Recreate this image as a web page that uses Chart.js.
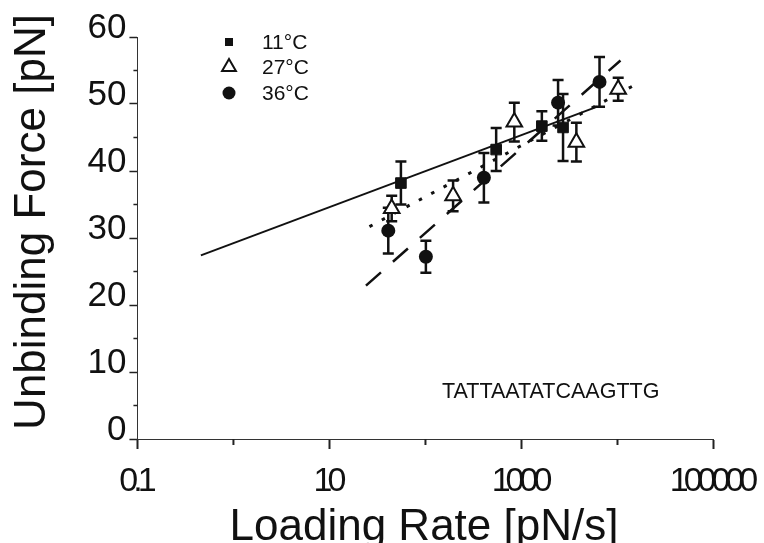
<!DOCTYPE html>
<html>
<head>
<meta charset="utf-8">
<title>Unbinding force vs loading rate</title>
<script src="https://cdn.jsdelivr.net/npm/chart.js@4.4.1/dist/chart.umd.min.js"></script>
<style>
  html, body { margin: 0; padding: 0; background: #fff; }
  canvas { display: block; }
</style>
</head>
<body>
<canvas id="chart" width="764" height="543"></canvas>
<script>
/* ===== DATA ===== */
const SERIES_LABELS = ["11°C", "27°C", "36°C"];

// 11°C
const RATE_11 = [55.5, 545, 1630, 2710];
const FORCE_11 = [38.2, 43.2, 46.7, 46.5];
const ERR_11 = [3.2, 3.2, 2.2, 5.0];

// 27°C
const RATE_27 = [44.5, 194, 842, 3730, 10170];
const FORCE_27 = [34.4, 36.3, 47.3, 44.3, 52.2];
const ERR_27 = [1.9, 2.3, 2.9, 2.9, 1.7];

// 36°C
const RATE_36 = [41, 101, 406, 2405, 6500];
const FORCE_36 = [31.1, 27.2, 39.0, 50.2, 53.3];
const ERR_36 = [3.4, 2.4, 3.7, 3.4, 3.7];

// linear fits (force vs log rate), end points
const FIT_11_RATE = [0.458, 6170];
const FIT_11_FORCE = [27.4, 49.6];
const FIT_27_RATE = [26.1, 16400];
const FIT_27_FORCE = [31.7, 53.1];
const FIT_36_RATE = [24.0, 10740];
const FIT_36_FORCE = [22.9, 56.5];

// axes
const X_MAJOR = [0.1, 10, 1000, 100000];
const X_MINOR = [1, 100, 10000];
const X_LABELS = ["0.1", "10", "1000", "100000"];
const Y_MINOR = [5, 15, 25, 35, 45, 55];

const SEQUENCE = "TATTAATATCAAGTTG";

/* ===== HELPERS ===== */
const FONT = '"Liberation Sans", Arial, sans-serif';
const INK = "#111";

function toPoints(xs, ys) {
  return xs.map((x, i) => ({ x, y: ys[i] }));
}

function marker(ctx, style, x, y, r) {
  ctx.beginPath();
  if (style === "rect") {
    ctx.rect(x - r, y - r, 2 * r, 2 * r);
    ctx.fillStyle = INK;
    ctx.fill();
  } else if (style === "triangle") {
    ctx.moveTo(x, y - r);
    ctx.lineTo(x + r * 0.866, y + r * 0.5);
    ctx.lineTo(x - r * 0.866, y + r * 0.5);
    ctx.closePath();
    ctx.fillStyle = "#fff";
    ctx.fill();
    ctx.lineWidth = 2;
    ctx.strokeStyle = INK;
    ctx.stroke();
  } else {
    ctx.arc(x, y, r, 0, Math.PI * 2);
    ctx.fillStyle = INK;
    ctx.fill();
  }
}

const ERRORS = [
  { xs: RATE_11, ys: FORCE_11, err: ERR_11 },
  { xs: RATE_27, ys: FORCE_27, err: ERR_27 },
  { xs: RATE_36, ys: FORCE_36, err: ERR_36 },
];

/* ===== EXTRA DRAWING: error bars, labels, legend ===== */
const extras = {
  id: "extras",
  beforeDatasetsDraw(chart) {
    const { ctx, scales } = chart;
    ctx.save();
    ctx.strokeStyle = INK;
    ctx.lineWidth = 2.5;
    ERRORS.forEach((s) => {
      s.xs.forEach((rate, i) => {
        const x = scales.x.getPixelForValue(rate);
        const top = scales.y.getPixelForValue(s.ys[i] + s.err[i]);
        const bot = scales.y.getPixelForValue(s.ys[i] - s.err[i]);
        ctx.beginPath();
        ctx.moveTo(x, top);
        ctx.lineTo(x, bot);
        ctx.moveTo(x - 5.5, top);
        ctx.lineTo(x + 5.5, top);
        ctx.moveTo(x - 5.5, bot);
        ctx.lineTo(x + 5.5, bot);
        ctx.stroke();
      });
    });
    ctx.restore();
  },
  afterDraw(chart) {
    const { ctx, scales, chartArea } = chart;
    const xs = scales.x;
    const ys = scales.y;
    ctx.save();

    // short minor ticks
    ctx.strokeStyle = "#222";
    ctx.lineWidth = 2;
    X_MINOR.forEach((v) => {
      const x = xs.getPixelForValue(v);
      ctx.beginPath();
      ctx.moveTo(x, chartArea.bottom);
      ctx.lineTo(x, chartArea.bottom + 6);
      ctx.stroke();
    });
    ctx.lineWidth = 1.5;
    Y_MINOR.forEach((v) => {
      const y = ys.getPixelForValue(v);
      ctx.beginPath();
      ctx.moveTo(chartArea.left - 4, y);
      ctx.lineTo(chartArea.left, y);
      ctx.stroke();
    });

    // x tick labels, squeezed digits
    ctx.fillStyle = INK;
    ctx.font = "34px " + FONT;
    ctx.textAlign = "center";
    ctx.textBaseline = "alphabetic";
    ctx.letterSpacing = "-5px";
    X_MAJOR.forEach((v, i) => {
      ctx.fillText(X_LABELS[i], xs.getPixelForValue(v) - 2, chartArea.bottom + 52);
    });
    ctx.letterSpacing = "0px";

    // axis titles
    ctx.font = "44px " + FONT;
    ctx.fillText("Loading Rate [pN/s]", 424, 540);
    ctx.save();
    ctx.translate(44.5, 222);
    ctx.rotate(-Math.PI / 2);
    ctx.fillText("Unbinding Force [pN]", 0, 0);
    ctx.restore();

    // legend
    const styles = ["rect", "triangle", "circle"];
    const sizes = [4, 8, 6.5];
    const rows = [42, 67, 93];
    ctx.font = "21px " + FONT;
    ctx.textAlign = "left";
    ctx.textBaseline = "middle";
    SERIES_LABELS.forEach((label, i) => {
      marker(ctx, styles[i], 229, rows[i], sizes[i]);
      ctx.fillStyle = INK;
      ctx.fillText(label, 262, rows[i] + 1);
    });

    // sequence tag
    ctx.textBaseline = "alphabetic";
    ctx.font = "21.5px " + FONT;
    ctx.fillText(SEQUENCE, 442, 397.5);
    ctx.restore();
  },
};

/* ===== CHART ===== */
const fitLine = (xs, ys, width, dash) => ({
  type: "line",
  data: toPoints(xs, ys),
  borderColor: INK,
  borderWidth: width,
  borderDash: dash,
  pointRadius: 0,
  fill: false,
  tension: 0,
});

new Chart(document.getElementById("chart"), {
  type: "scatter",
  data: {
    datasets: [
      {
        label: SERIES_LABELS[0],
        data: toPoints(RATE_11, FORCE_11),
        pointStyle: "rect",
        pointRadius: 7.5,
        backgroundColor: INK,
        borderColor: INK,
        borderWidth: 1,
      },
      {
        label: SERIES_LABELS[1],
        data: toPoints(RATE_27, FORCE_27),
        pointStyle: "triangle",
        pointRadius: 9,
        backgroundColor: "#fff",
        borderColor: INK,
        borderWidth: 2,
      },
      {
        label: SERIES_LABELS[2],
        data: toPoints(RATE_36, FORCE_36),
        pointStyle: "circle",
        pointRadius: 7,
        backgroundColor: INK,
        borderColor: INK,
        borderWidth: 0,
      },
      fitLine(FIT_11_RATE, FIT_11_FORCE, 2, []),
      fitLine(FIT_27_RATE, FIT_27_FORCE, 3, [3.5, 10.5]),
      fitLine(FIT_36_RATE, FIT_36_FORCE, 2.5, [20, 16]),
    ],
  },
  options: {
    responsive: false,
    animation: false,
    layout: { padding: { left: 84.5, right: 50.5, top: 37, bottom: 94 } },
    plugins: { legend: { display: false }, tooltip: { enabled: false } },
    scales: {
      x: {
        type: "logarithmic",
        min: 0.1,
        max: 100000,
        afterBuildTicks: (axis) => {
          axis.ticks = X_MAJOR.map((v) => ({ value: v, major: true }));
        },
        ticks: { display: false },
        grid: {
          display: true,
          drawOnChartArea: false,
          drawTicks: true,
          tickLength: 10,
          tickWidth: 2,
          tickColor: "#222",
        },
        border: { display: true, color: "#333", width: 1 },
      },
      y: {
        min: 0,
        max: 60,
        ticks: {
          stepSize: 10,
          color: INK,
          padding: 3,
          labelOffset: -9,
          font: { family: FONT, size: 35 },
        },
        grid: {
          display: true,
          drawOnChartArea: false,
          drawTicks: true,
          tickLength: 8,
          tickWidth: 1.5,
          tickColor: "#222",
        },
        border: { display: true, color: "#333", width: 1 },
      },
    },
  },
  plugins: [extras],
});
</script>
</body>
</html>
